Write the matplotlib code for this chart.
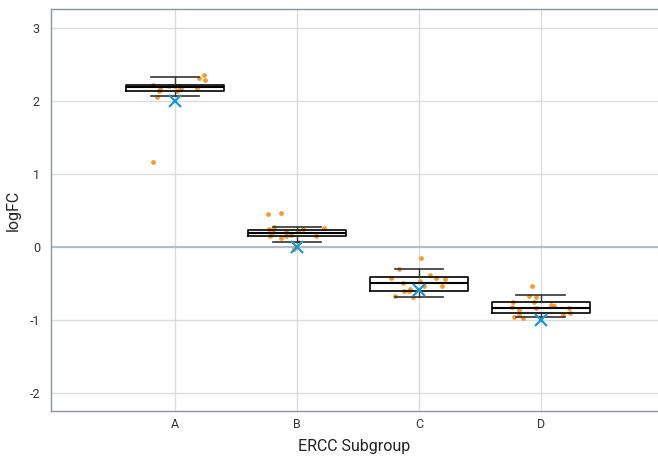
import numpy as np
import matplotlib
matplotlib.use('Agg')
import matplotlib.pyplot as plt

plt.rcParams['font.family'] = ['Roboto', 'DejaVu Sans']
plt.rcParams['axes.unicode_minus'] = False

# subgroups and expected logFC
groups = ['A', 'B', 'C', 'D']
expected = [2.0, 0.0, -0.585, -1.0]

vals_a = [2.36, 2.32, 2.28, 2.22, 2.21, 2.21, 2.20, 2.18, 2.16, 2.13, 2.16, 2.13, 2.06, 1.16]
jit_a = [0.24, 0.20, 0.25, -0.18, -0.05, 0.03, 0.0, 0.18, -0.12, -0.13, 0.05, 0.02, -0.15, -0.18]
vals_b = [0.45, 0.46, 0.27, 0.24, 0.20, 0.15, 0.20, 0.15, 0.16, 0.12, 0.25, 0.22, 0.26, 0.15, 0.06, -0.03]
jit_b = [-0.24, -0.13, -0.19, -0.23, -0.20, -0.22, -0.09, -0.09, -0.05, -0.13, 0.05, 0.01, 0.22, 0.16, 0.01, -0.02]
vals_c = [-0.15, -0.30, -0.43, -0.50, -0.38, -0.43, -0.44, -0.47, -0.53, -0.53, -0.60, -0.58, -0.61, -0.68, -0.69]
jit_c = [0.02, -0.16, -0.23, -0.13, 0.09, 0.14, 0.21, 0.01, 0.04, 0.19, -0.12, -0.07, -0.08, -0.20, -0.05]
vals_d = [-0.54, -0.67, -0.69, -0.75, -0.76, -0.83, -0.84, -0.87, -0.80, -0.81, -0.84, -0.90, -0.93, -0.96, -0.97, -0.94]
jit_d = [-0.07, -0.10, -0.04, -0.23, -0.06, -0.24, -0.04, -0.18, 0.08, 0.11, 0.23, 0.24, 0.18, -0.22, -0.15, -0.18]

# box statistics as drawn
q1 = [2.13, 0.15, -0.60, -0.90]
med = [2.19, 0.19, -0.50, -0.84]
q3 = [2.22, 0.23, -0.42, -0.75]
whis_lo = [2.07, 0.06, -0.69, -0.96]
whis_hi = [2.33, 0.27, -0.30, -0.66]

fig = plt.figure(figsize=(6.58, 4.58), dpi=100)
ax = fig.add_axes([51/658, 47/458, 607/658, 402/458])

pos = np.arange(len(groups))
ax.set_xlim(-1.016, 3.96)
ax.set_ylim(-2.25, 3.26)

ax.grid(True, color='#dcdcdc', linewidth=1)
ax.set_axisbelow(True)
ax.axhline(0, color='#b3bbc3', linewidth=1.5, zorder=1)

orange = '#f58a0e'
for i, (v, j) in enumerate([(vals_a, jit_a), (vals_b, jit_b), (vals_c, jit_c), (vals_d, jit_d)]):
    ax.scatter(pos[i] + np.array(j), v, s=12, color=orange, alpha=0.85,
               linewidths=0, zorder=3)

stats = []
for i in range(len(groups)):
    stats.append(dict(q1=q1[i], med=med[i], q3=q3[i], whislo=whis_lo[i], whishi=whis_hi[i], fliers=[]))
ax.bxp(stats, positions=pos, widths=0.8, showfliers=False, patch_artist=False,
       boxprops=dict(color='black', linewidth=1.2),
       medianprops=dict(color='black', linewidth=1.5),
       whiskerprops=dict(color='#333333', linewidth=1),
       capprops=dict(color='#333333', linewidth=1.2),
       capwidths=0.4, manage_ticks=False, zorder=4)

ax.plot(pos, expected, linestyle='none', marker='x', color='#1b98d6',
        markersize=8, markeredgewidth=1.6, zorder=5)

ax.set_xticks(pos)
ax.set_xticklabels(groups)
ax.set_yticks([-2, -1, 0, 1, 2, 3])
ax.tick_params(axis='both', length=0, labelsize=9, labelcolor='#333333')
ax.tick_params(axis='x', pad=5)
ax.tick_params(axis='y', pad=8)

for s in ['left', 'top', 'bottom']:
    ax.spines[s].set_color('#8c959e')
    ax.spines[s].set_linewidth(1)
ax.spines['right'].set_visible(False)

ax.set_xlabel('ERCC Subgroup', fontsize=11.5, color='#222222', labelpad=6)
ax.set_ylabel('logFC', fontsize=11.5, color='#222222', labelpad=6)

fig.savefig('out.png', dpi=100)
